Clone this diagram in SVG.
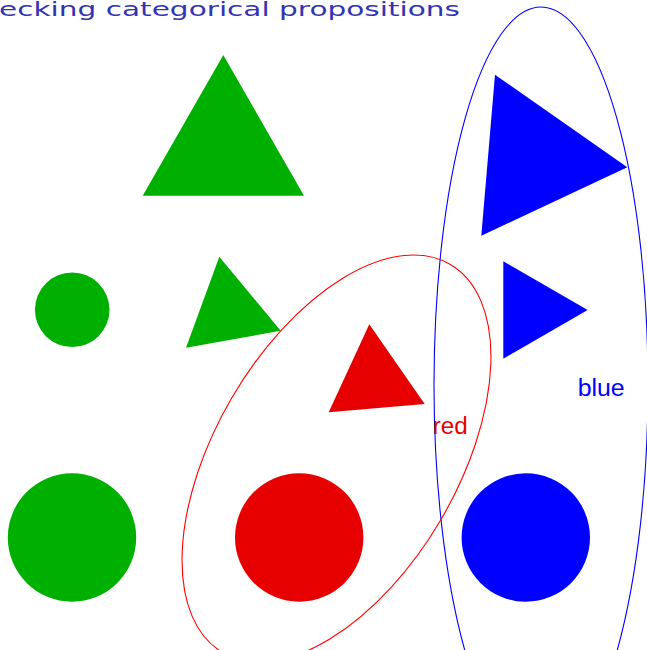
<svg xmlns="http://www.w3.org/2000/svg" width="647" height="650" viewBox="0 0 647 650">
<style>
.g{fill:#00b000}
.r{fill:#e60000}
.b{fill:#0000ff}
.set{fill:none;stroke-width:1.1}
.lbl{font-family:"Liberation Sans","DejaVu Sans",sans-serif;font-size:23px}
</style>
<rect width="647" height="650" fill="#ffffff"/>
<text x="-1" y="15.5" font-family="'DejaVu Sans','Liberation Sans',sans-serif" font-size="20" fill="#3333b3" textLength="461" lengthAdjust="spacingAndGlyphs">ecking categorical propositions</text>
<g id="green-big-triangle"><polygon class="g" points="223.3,55 142.7,195.7 304,195.7"/></g>
<g id="green-small-triangle"><polygon class="g" points="219.3,256.7 186,347.7 280.7,330.7"/></g>
<g id="green-small-circle"><circle class="g" cx="72.2" cy="309.8" r="37.3"/></g>
<g id="green-big-circle"><circle class="g" cx="72" cy="537.5" r="64.2"/></g>
<g id="red-triangle"><polygon class="r" points="369.3,324.3 328.7,412.3 424.7,404"/></g>
<g id="red-circle"><circle class="r" cx="299.2" cy="537.5" r="64.2"/></g>
<g id="blue-big-triangle"><polygon class="b" points="495,74.7 481.3,235.7 627.3,167.3"/></g>
<g id="blue-small-triangle"><polygon class="b" points="503.3,261.3 503.3,358.7 587.7,310"/></g>
<g id="blue-circle"><circle class="b" cx="525.8" cy="537.5" r="64.2"/></g>
<g id="blue-set">
<ellipse class="set" stroke="#0000ff" cx="541" cy="385" rx="107" ry="378"/>
<text class="lbl" x="577.7" y="396" fill="#0000ff" textLength="47" lengthAdjust="spacingAndGlyphs">blue</text>
</g>
<g id="red-set">
<ellipse class="set" stroke="#ff0000" cx="336.5" cy="458.5" rx="225" ry="121" transform="rotate(-59.6 336.5 458.5)"/>
<text class="lbl" x="432.7" y="434" fill="#e60000" textLength="35" lengthAdjust="spacingAndGlyphs">red</text>
</g>
</svg>
